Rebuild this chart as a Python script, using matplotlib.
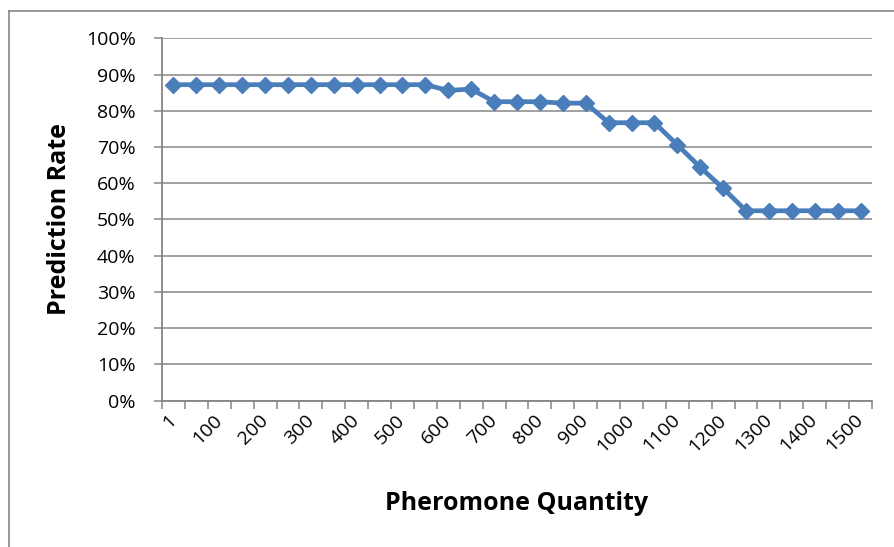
import matplotlib
matplotlib.use("Agg")
import matplotlib.pyplot as plt
from matplotlib.lines import Line2D
from matplotlib.ticker import FixedLocator, FuncFormatter

plt.rcParams['font.family'] = ['Open Sans', 'DejaVu Sans']

# Pheromone quantities (categories) and prediction rate (%)
quantities = [1] + list(range(50, 1501, 50))
prediction_rate = [
    87.2, 87.2, 87.2, 87.2, 87.2, 87.2, 87.2, 87.2, 87.2, 87.2, 87.2, 87.2,
    85.6, 86.0,
    82.5, 82.5, 82.5, 82.1, 82.1,
    76.7, 76.7, 76.7,
    70.6, 64.4, 58.6,
    52.4, 52.4, 52.4, 52.4, 52.4, 52.4,
]
y_ticks = list(range(0, 101, 10))

line_color = '#4A7EBB'
axis_gray = '#868686'

fig = plt.figure(figsize=(8.94, 5.47), dpi=100)
ax = fig.add_axes([162 / 894, 1 - 400.6 / 547, (872 - 162) / 894, (400.6 - 38.3) / 547])

x = list(range(len(quantities)))
ax.plot(x, prediction_rate, color=line_color, linewidth=3.4, marker='D',
        markersize=8, markerfacecolor=line_color, markeredgecolor=line_color,
        solid_joinstyle='round', zorder=3)

ax.set_xlim(-0.5, len(quantities) - 0.5)
ax.set_ylim(0, 100)

# y axis: percentage ticks with horizontal gridlines
ax.set_yticks(y_ticks)
ax.yaxis.set_major_formatter(FuncFormatter(lambda v, p: f"{int(v)}%"))
ax.grid(axis='y', color=axis_gray, linewidth=1.1)
ax.set_axisbelow(True)

# x axis: labels on every second category, tick marks between categories
label_idx = x[::2]
ax.xaxis.set_major_locator(FixedLocator(label_idx))
ax.set_xticklabels([str(quantities[i]) for i in label_idx])
ax.xaxis.set_minor_locator(FixedLocator([i - 0.5 for i in range(len(quantities) + 1)]))
ax.tick_params(axis='x', which='major', length=0, pad=12, labelsize=14)
ax.tick_params(axis='x', which='minor', length=6, width=1.1, color=axis_gray, direction='out')
for lbl in ax.get_xticklabels():
    lbl.set_rotation(45)
    lbl.set_rotation_mode('anchor')
    lbl.set_ha('right')
    lbl.set_va('center')

ax.tick_params(axis='y', length=6, width=1.1, color=axis_gray, pad=13, labelsize=14)

for side in ('top', 'right'):
    ax.spines[side].set_visible(False)
for side in ('left', 'bottom'):
    ax.spines[side].set_color(axis_gray)
    ax.spines[side].set_linewidth(1.3)

ax.set_ylabel('Prediction Rate', fontsize=18, fontweight='bold', labelpad=10)
ax.set_xlabel('Pheromone Quantity', fontsize=18, fontweight='bold', labelpad=26)

# chart area border
fig.add_artist(Line2D([9 / 894, 9 / 894], [0, 1 - 11 / 547], color=axis_gray, linewidth=1.2))
fig.add_artist(Line2D([9 / 894, 1], [1 - 11 / 547, 1 - 11 / 547], color=axis_gray, linewidth=1.2))

fig.savefig('out.png', dpi=100)
